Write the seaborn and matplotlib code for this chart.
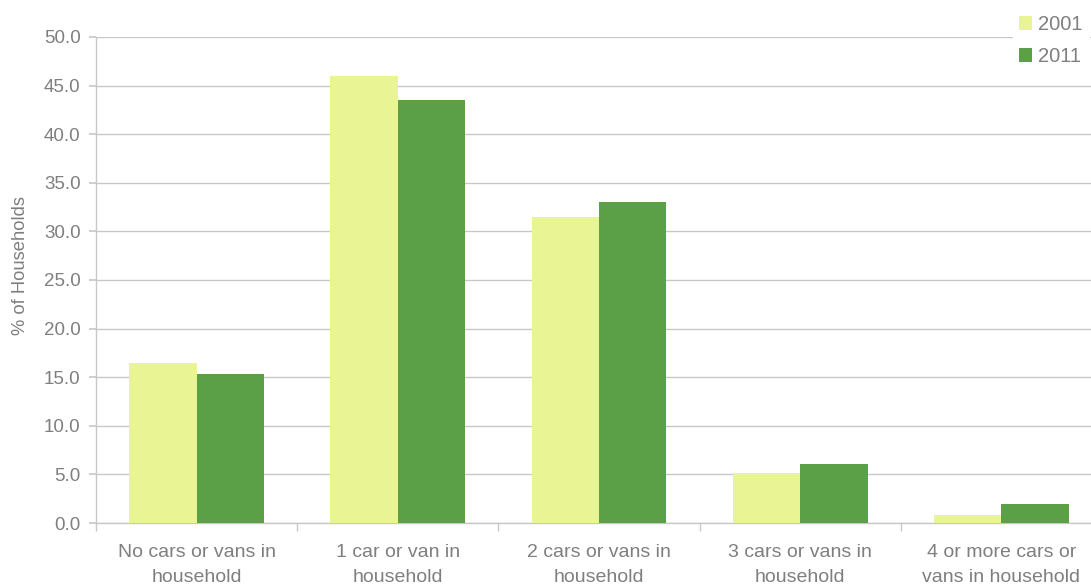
import pandas as pd
import matplotlib.pyplot as plt
import seaborn as sns
from matplotlib.ticker import MultipleLocator, FixedLocator

# data
categories = [
    "No cars or vans in\nhousehold",
    "1 car or van in\nhousehold",
    "2 cars or vans in\nhousehold",
    "3 cars or vans in\nhousehold",
    "4 or more cars or\nvans in household",
]
years = ["2001", "2011"]
pct_2001 = [16.5, 46.0, 31.5, 5.1, 0.8]
pct_2011 = [15.3, 43.5, 33.0, 6.1, 2.0]

df = pd.DataFrame({
    "category": categories * 2,
    "year": [years[0]] * 5 + [years[1]] * 5,
    "pct": pct_2001 + pct_2011,
})

sns.set_theme(style="white")
plt.rcParams['font.family'] = ['Liberation Sans', 'DejaVu Sans']

grey = "#7f7f7f"
line_grey = "#c8c8c8"
palette = {"2001": "#e9f495", "2011": "#5b9f46"}

fig = plt.figure(figsize=(10.91, 5.86), dpi=100)
# axes runs a little past the right edge, like the original
ax = fig.add_axes([0.088, 0.1075, 0.922, 0.8295])

sns.barplot(data=df, x="category", y="pct", hue="year", palette=palette,
            width=0.67, saturation=1, linewidth=0, ax=ax, zorder=3)

ax.set_ylim(0, 50)
ax.set_xlim(-0.5, 4.5)
ax.yaxis.set_major_locator(MultipleLocator(5))
ax.yaxis.set_major_formatter(plt.FuncFormatter(lambda v, p: f"{v:.1f}"))
ax.grid(axis="y", color=line_grey, linewidth=1, zorder=0)
ax.set_axisbelow(True)

for s in ["top", "right"]:
    ax.spines[s].set_visible(False)
for s in ["left", "bottom"]:
    ax.spines[s].set_color(line_grey)
    ax.spines[s].set_linewidth(1)

ax.tick_params(axis="y", length=5, color=line_grey, labelcolor=grey,
               labelsize=13.5, left=True, pad=6)
ax.tick_params(axis="x", which="major", length=0, labelcolor=grey,
               labelsize=14, pad=15)
ax.xaxis.set_minor_locator(FixedLocator([-0.5, 0.5, 1.5, 2.5, 3.5]))
ax.tick_params(axis="x", which="minor", length=6, color=line_grey, bottom=True)
for lbl in ax.get_xticklabels():
    lbl.set_linespacing(1.6)

ax.set_xlabel("")
ax.set_ylabel("% of Households", color=grey, fontsize=13.2)
ax.yaxis.set_label_coords(-0.067, 0.529)

leg = ax.legend(loc="upper right", bbox_to_anchor=(1089 / 1091, 1 - 9 / 586),
                bbox_transform=fig.transFigure, frameon=True,
                facecolor="white", edgecolor="white", framealpha=1,
                fontsize=14.5, labelcolor=grey, handlelength=0.65,
                handleheight=0.65, handletextpad=0.3, labelspacing=0.65,
                borderaxespad=0, borderpad=0.3)
leg.set_zorder(5)

fig.savefig("out.png", dpi=100)
